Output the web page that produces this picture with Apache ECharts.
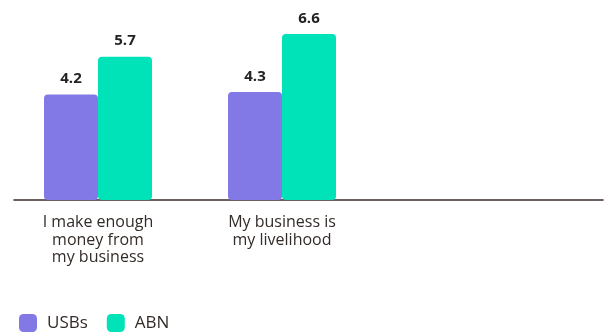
<!DOCTYPE html>
<html>
<head>
<meta charset="utf-8">
<script src="https://cdn.jsdelivr.net/npm/echarts@6/dist/echarts.min.js"></script>
<style>html,body{margin:0;padding:0;background:#fff}#c{width:608px;height:336px}</style>
</head>
<body>
<div id="c"></div>
<script>
const categories = ['I make enough\nmoney from\nmy business', 'My business is\nmy livelihood', ''];
const usbs = [4.2, 4.3, null];
const abn = [5.7, 6.6, null];
const seriesNames = ['USBs', 'ABN'];

const chart = echarts.init(document.getElementById('c'));
const labelStyle = {
  show: true, position: 'top', distance: 8,
  fontFamily: 'Open Sans', fontWeight: 'bold', fontSize: 15, color: '#222'
};
chart.setOption({
  animation: false,
  legend: {
    left: 14, top: 309, itemWidth: 18, itemHeight: 18, itemGap: 19,
    icon: 'roundRect',
    textStyle: { fontFamily: 'Open Sans', fontSize: 17, color: '#332b28', padding: [0,0,0,5] },
    data: seriesNames
  },
  grid: [
    { left: 6, right: 50, top: 24, bottom: 136 },
    { left: 14, right: 5, top: 24, bottom: 136 }
  ],
  xAxis: [
    {
      type: 'category', data: categories, gridIndex: 0,
      axisLine: { show: false }, axisTick: { show: false },
      axisLabel: { margin: 14, fontFamily: 'Open Sans', fontSize: 16, color: '#332b28', lineHeight: 17.5, interval: 0 }
    },
    {
      type: 'category', data: [''], gridIndex: 1,
      axisLine: { show: true, lineStyle: { color: '#3a2e2a', width: 1.5 } },
      axisTick: { show: false }, axisLabel: { show: false }
    }
  ],
  yAxis: [
    { type: 'value', min: 0, max: 7, show: false, gridIndex: 0, splitLine: { show: false } },
    { type: 'value', min: 0, max: 7, show: false, gridIndex: 1, splitLine: { show: false } }
  ],
  series: [
    { name: seriesNames[0], type: 'bar', data: usbs, barWidth: 54, barGap: '0%',
      itemStyle: { color: '#8279E6', borderRadius: 4 }, label: labelStyle },
    { name: seriesNames[1], type: 'bar', data: abn, barWidth: 54, barGap: '0%',
      itemStyle: { color: '#00E3B8', borderRadius: 4 }, label: labelStyle }
  ]
});
</script>
</body>
</html>
